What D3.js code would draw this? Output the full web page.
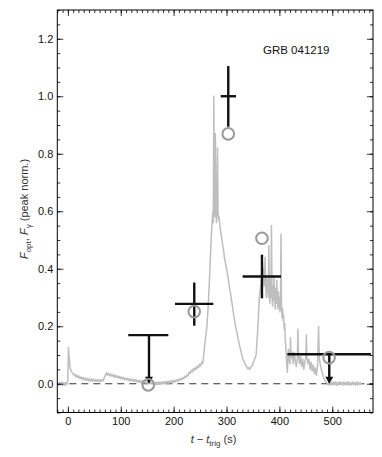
<!DOCTYPE html>
<html>
<head>
<meta charset="utf-8">
<script src="https://cdn.jsdelivr.net/npm/d3@7"></script>
<style>
  body { margin: 0; background: #fff; }
  svg { font-family: "Liberation Sans", Arial, Helvetica, sans-serif; }
</style>
</head>
<body>
<svg width="382" height="457"></svg>
<script>
// gamma-ray light curve (t - t_trig in s, peak-normalised flux)
var lightCurve = [
  [-20,0.003],[-18,-0.006],[-16,0.005],[-14,-0.004],[-12,0.006],[-10,-0.005],[-8,0.004],[-6,-0.006],[-4,0.005],[-2,-0.003],[0,0.01],
  [1,0.127],[2,0.1],[3,0.075],[4,0.058],[5,0.05],[7,0.042],[9,0.036],[11,0.03],[13,0.034],[15,0.024],[17,0.03],[19,0.021],[21,0.027],
  [23,0.018],[25,0.024],[27,0.015],[29,0.022],[31,0.013],[33,0.02],[35,0.012],[37,0.018],[39,0.01],[41,0.017],[43,0.009],[45,0.016],
  [47,0.009],[49,0.015],[51,0.008],[53,0.015],[55,0.008],[57,0.014],[59,0.007],[61,0.014],[63,0.008],[65,0.015],[67,0.01],[69,0.022],
  [71,0.03],[73,0.038],[75,0.03],[77,0.036],[79,0.028],[81,0.034],[83,0.026],[85,0.032],[87,0.024],[89,0.03],[91,0.022],[93,0.028],
  [95,0.02],[97,0.026],[99,0.018],[101,0.024],[103,0.016],[105,0.022],[107,0.014],[109,0.02],[111,0.013],[113,0.019],[115,0.011],
  [117,0.017],[119,0.01],[121,0.016],[123,0.009],[125,0.015],[127,0.008],[129,0.014],[131,0.006],[133,0.012],[135,0.005],[137,0.011],
  [139,0.004],[141,0.01],[143,0.003],[145,0.009],[147,0.002],[149,0.008],[151,0.001],[153,0.007],[155,0.0],[157,0.006],[159,-0.001],
  [161,0.006],[163,-0.002],[165,0.005],[167,-0.003],[169,0.006],[171,-0.002],[173,0.006],[175,-0.002],[177,0.007],[179,-0.001],
  [181,0.007],[183,0.0],[185,0.008],[187,0.001],[189,0.009],[191,0.002],[193,0.01],[195,0.003],[197,0.011],[199,0.004],[201,0.012],
  [203,0.006],[205,0.014],[207,0.008],[209,0.016],[211,0.011],[213,0.018],[215,0.014],[217,0.021],[219,0.017],[221,0.026],[223,0.022],
  [225,0.03],[227,0.027],[229,0.04],[231,0.036],[233,0.046],[235,0.04],[237,0.052],[239,0.046],[241,0.056],[243,0.05],[245,0.062],
  [247,0.056],[249,0.068],[251,0.062],[253,0.076],[255,0.07],[257,0.1],[259,0.14],[261,0.17],[263,0.2],[265,0.26],[267,0.33],
  [269,0.42],[271,0.5],[272,0.54],[273,0.57],[274,0.6],[275,0.56],[276,1.0],[277,0.62],[278,0.58],[279,0.87],[280,0.6],[281,0.56],
  [282,0.62],[283,0.82],[284,0.6],[285,0.57],[286,0.58],[288,0.54],[290,0.52],[292,0.49],[294,0.47],[296,0.44],[298,0.42],[300,0.4],
  [303,0.37],[306,0.33],[308,0.31],[310,0.285],[312,0.26],[314,0.235],[317,0.2],[320,0.175],[322,0.155],[325,0.13],[327,0.115],
  [329,0.1],[331,0.085],[333,0.078],[336,0.065],[338,0.06],[340,0.052],[342,0.056],[344,0.05],[346,0.058],[348,0.062],[350,0.07],
  [352,0.08],[354,0.09],[356,0.1],[358,0.16],[360,0.22],[362,0.3],[364,0.33],[366,0.36],[368,0.42],[369,0.38],[370,0.4],[371,0.34],
  [372,0.38],[373,0.44],[374,0.35],[375,0.3],[376,0.37],[377,0.32],[378,0.36],[379,0.3],[380,0.48],[381,0.33],[382,0.28],[383,0.36],
  [384,0.3],[385,0.55],[386,0.32],[387,0.27],[388,0.34],[389,0.29],[390,0.37],[391,0.3],[392,0.26],[393,0.33],[394,0.28],[395,0.36],
  [396,0.3],[397,0.26],[398,0.32],[399,0.27],[400,0.3],[401,0.25],[402,0.28],[403,0.52],[404,0.27],[405,0.23],[406,0.26],[407,0.22],
  [408,0.24],[409,0.19],[410,0.21],[411,0.16],[412,0.13],[413,0.1],[414,0.06],[415,0.04],[416,0.08],[417,0.12],[418,0.1],[419,0.08],
  [420,0.07],[421,0.16],[422,0.09],[424,0.11],[426,0.07],[428,0.11],[430,0.08],[432,0.06],[434,0.09],[435,0.19],[436,0.1],[438,0.07],
  [440,0.095],[442,0.06],[444,0.085],[446,0.05],[448,0.075],[450,0.09],[451,0.17],[452,0.09],[454,0.07],[456,0.085],[458,0.05],
  [460,0.075],[462,0.045],[464,0.065],[466,0.035],[468,0.055],[470,0.03],[472,0.06],[474,0.2],[475,0.12],[476,0.08],[478,0.06],
  [480,0.045],[482,0.032],[484,0.02],[486,0.012],[488,0.006],[490,0.002],[492,-0.004],[494,0.006],[496,-0.005],[498,0.005],
  [500,-0.004],[502,0.007],[504,-0.003],[506,0.006],[508,-0.005],[510,0.005],[512,-0.004],[514,0.007],[516,-0.003],[518,0.005],
  [520,-0.005],[522,0.006],[524,-0.004],[526,0.005],[528,-0.003],[530,0.007],[532,-0.005],[534,0.004],[536,-0.004],[538,0.006],
  [540,-0.003],[542,0.005],[544,-0.005],[546,0.006],[548,-0.004],[550,0.005],[552,-0.003],[554,0.004],[556,-0.002]
];

// optical detections with error bars
var detTime  = [239, 303.3, 367];
var detFlux  = [0.278, 1.0, 0.373];
var detTLow  = [202.5, 289, 330.5];
var detTHigh = [275, 318, 403];
var detFLow  = [0.202, 0.894, 0.297];
var detFHigh = [0.352, 1.105, 0.449];

// optical upper limits
var limTime  = [153.4, 494.3];
var limTLow  = [114.2, 415];
var limTHigh = [190, 573];
var limFlux  = [0.169, 0.1025];

// gamma-ray flux averaged over the optical exposures
var gamTime = [152, 239, 303.3, 367, 494];
var gamFlux = [-0.004, 0.251, 0.869, 0.506, 0.091];

var xMajor = [0, 100, 200, 300, 400, 500];
var yMajor = [0.0, 0.2, 0.4, 0.6, 0.8, 1.0, 1.2];

function draw() {
    var svg = d3.select("svg"),
        pl = 57.3, pr = 373, pt = 10, pb = 412.5;

    var x = d3.scaleLinear().domain([-20, 577]).range([pl, pr]);
    var y = d3.scaleLinear().domain([-0.1, 1.3]).range([pb, pt]);

    // zero line
    svg.append("line")
       .attr("x1", pl).attr("x2", pr)
       .attr("y1", y(0)).attr("y2", y(0))
       .attr("stroke", "#333").attr("stroke-width", 1)
       .attr("stroke-dasharray", "7,5");

    // light curve
    var line = d3.line().x(d => x(d[0])).y(d => y(d[1]));
    svg.append("path")
       .datum(lightCurve)
       .attr("d", line)
       .attr("fill", "none")
       .attr("stroke", "#bebebe")
       .attr("stroke-width", 1.5)
       .attr("stroke-linejoin", "round");

    var ink = "#111", lw = 2.4;

    // detections
    var det = svg.append("g").attr("stroke", ink).attr("stroke-width", lw);
    detTime.forEach(function(t, i) {
        det.append("line").attr("x1", x(detTLow[i])).attr("x2", x(detTHigh[i]))
           .attr("y1", y(detFlux[i])).attr("y2", y(detFlux[i]));
        det.append("line").attr("x1", x(t)).attr("x2", x(t))
           .attr("y1", y(detFLow[i])).attr("y2", y(detFHigh[i]));
    });

    // upper limits
    limTime.forEach(function(t, i) {
        det.append("line").attr("x1", x(limTLow[i])).attr("x2", x(limTHigh[i]))
           .attr("y1", y(limFlux[i])).attr("y2", y(limFlux[i]));
        det.append("line").attr("x1", x(t)).attr("x2", x(t))
           .attr("y1", y(limFlux[i])).attr("y2", y(0) - 6);
        var cx = x(t), cy = y(0);
        svg.append("path")
           .attr("d", "M" + (cx - 4) + "," + (cy - 7) + "L" + (cx + 4) + "," + (cy - 7) + "L" + cx + "," + cy + "Z")
           .attr("fill", ink);
    });

    // gamma circles
    svg.append("g").selectAll("circle")
       .data(gamTime)
       .enter().append("circle")
       .attr("cx", d => x(d))
       .attr("cy", (d, i) => y(gamFlux[i]))
       .attr("r", 5.8)
       .attr("fill", "none")
       .attr("stroke", "#999")
       .attr("stroke-width", 2);

    // axes: ticks point inward on all four sides
    function ticks(axis, pos, size, vals, pad) {
        axis.tickValues(vals).tickSize(-size).tickPadding(pad || 0);
        if (!pad) axis.tickFormat("");
        var g = svg.append("g").attr("transform", pos).call(axis);
        g.select(".domain").remove();
        g.selectAll("line").attr("stroke", "#000").attr("stroke-width", 0.8);
        g.selectAll("text").attr("font-size", 11).attr("fill", "#111")
         .style("font-family", '"Liberation Sans", Arial, sans-serif');
        return g;
    }
    var xMinor = d3.range(-20, 577, 10);
    var yMinor = d3.range(-0.1, 1.3001, 0.05);
    ticks(d3.axisBottom(x).tickFormat(d3.format("d")), "translate(0," + pb + ")", 6, xMajor, 5);
    ticks(d3.axisBottom(x), "translate(0," + pb + ")", 3, xMinor);
    ticks(d3.axisTop(x), "translate(0," + pt + ")", 6, xMajor);
    ticks(d3.axisTop(x), "translate(0," + pt + ")", 3, xMinor);
    ticks(d3.axisLeft(y).tickFormat(d3.format(".1f")), "translate(" + pl + ",0)", 6, yMajor, 4);
    ticks(d3.axisLeft(y), "translate(" + pl + ",0)", 3, yMinor);
    ticks(d3.axisRight(y), "translate(" + pr + ",0)", 6, yMajor);
    ticks(d3.axisRight(y), "translate(" + pr + ",0)", 3, yMinor);

    // frame
    svg.append("rect")
       .attr("x", pl).attr("y", pt)
       .attr("width", pr - pl).attr("height", pb - pt)
       .attr("fill", "none").attr("stroke", "#000").attr("stroke-width", 1);

    // labels
    svg.append("text")
       .attr("x", 263).attr("y", 53.5)
       .attr("font-size", 11.5).attr("fill", "#111")
       .text("GRB 041219");

    var xt = svg.append("text")
       .attr("x", 213.5).attr("y", 443)
       .attr("text-anchor", "middle").attr("font-size", 11).attr("fill", "#333");
    xt.append("tspan").attr("font-style", "italic").text("t");
    xt.append("tspan").text(" \u2212 ");
    xt.append("tspan").attr("font-style", "italic").text("t");
    xt.append("tspan").attr("font-size", 8).attr("dy", 3).text("trig");
    xt.append("tspan").attr("dy", -3).text(" (s)");

    var yt = svg.append("text")
       .attr("transform", "translate(28,209) rotate(-90)")
       .attr("text-anchor", "middle").attr("font-size", 11).attr("fill", "#333");
    yt.append("tspan").attr("font-style", "italic").text("F");
    yt.append("tspan").attr("font-size", 8).attr("dy", 3).text("opt");
    yt.append("tspan").attr("dy", -3).text(", ");
    yt.append("tspan").attr("font-style", "italic").text("F");
    yt.append("tspan").attr("font-size", 8).attr("dy", 3).text("\u03b3");
    yt.append("tspan").attr("dy", -3).text("  (peak norm.)");
}
draw();
</script>
</body>
</html>
